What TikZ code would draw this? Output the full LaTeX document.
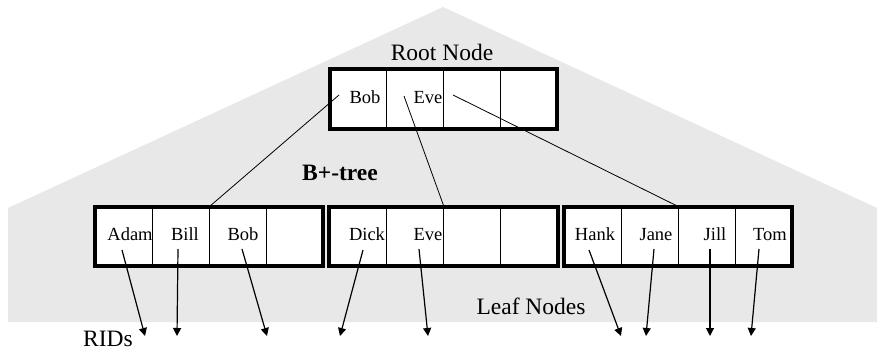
\documentclass[tikz,border=0pt]{standalone}
\usepackage{fontspec}
\setmainfont{Liberation Serif}
\usetikzlibrary{arrows.meta}
\definecolor{treegray}{HTML}{E8E8E8}
\tikzset{
  cell/.style={draw, line width=0.8pt, fill=white, minimum width=57pt, minimum height=59pt, inner sep=0pt},
  key/.style={anchor=base, inner sep=0pt, font=\fontsize{18.5}{22}\selectfont},
  label/.style={anchor=base, inner sep=0pt, font=\fontsize{23.5}{28}\selectfont},
  ptr/.style={line width=0.8pt},
  rid/.style={line width=1.2pt, -{Triangle[length=8pt,width=8pt]}}
}
\begin{document}
\begin{tikzpicture}[x=1pt, y=-1pt]
    \useasboundingbox (0,0) rectangle (877,352);
    \fill[treegray] (8,208) -- (443,7) -- (877,208) -- (877,322) -- (8,322) -- cycle;
    % root node
    \node[cell, minimum width=56.75pt, minimum height=60pt] (r1) at (358.4,99) {};
    \node[cell, minimum width=56.75pt, minimum height=60pt] (r2) at (415.1,99) {};
    \node[cell, minimum width=56.75pt, minimum height=60pt] (r3) at (471.9,99) {};
    \node[cell, minimum width=56.75pt, minimum height=60pt] (r4) at (528.6,99) {};
    \draw[line width=4pt] (r1.north west) rectangle (r4.south east);
    \node[key] (rbob) at (365,104) {Bob};
    \node[key] (reve) at (428,104) {Eve};
    \node[label] (rootlabel) at (442,61) {Root Node};
    % leaf nodes
    \node[cell] (a1) at (123.5,236.5) {};
    \node[cell] (a2) at (180.5,236.5) {};
    \node[cell] (a3) at (237.5,236.5) {};
    \node[cell] (a4) at (294.5,236.5) {};
    \draw[line width=4pt] (a1.north west) rectangle (a4.south east);
    \node[cell, minimum width=57.25pt] (b1) at (357.6,236.5) {};
    \node[cell, minimum width=57.25pt] (b2) at (414.9,236.5) {};
    \node[cell, minimum width=57.25pt] (b3) at (472.1,236.5) {};
    \node[cell, minimum width=57.25pt] (b4) at (529.4,236.5) {};
    \draw[line width=4pt] (b1.north west) rectangle (b4.south east);
    \node[cell] (c1) at (592.5,236.5) {};
    \node[cell] (c2) at (649.5,236.5) {};
    \node[cell] (c3) at (706.5,236.5) {};
    \node[cell] (c4) at (763.5,236.5) {};
    \draw[line width=4pt] (c1.north west) rectangle (c4.south east);
    \node[key] (adam) at (130,241) {Adam};
    \node[key] (bill) at (185,241) {Bill};
    \node[key] (bob) at (243,241) {Bob};
    \node[key] (dick) at (367,241) {Dick};
    \node[key] (eve) at (428,241) {Eve};
    \node[key] (hank) at (595,241) {Hank};
    \node[key] (jane) at (656,241) {Jane};
    \node[key] (jill) at (715,241) {Jill};
    \node[key] (tom) at (770,241) {Tom};
    \node[label, font=\fontsize{23.5}{28}\selectfont\bfseries] (treelabel) at (340,181) {B+-tree};
    \node[label] (leaflabel) at (531,314) {Leaf Nodes};
    \node[label] (ridlabel) at (108,346) {RIDs};
    % pointers from the root
    \coordinate (rp1) at (339,95);
    \coordinate (rp2) at (404,96);
    \coordinate (rp3) at (453,95);
    \draw[ptr] (rp1) -- (a2.north east);
    \draw[ptr] (rp2) -- (b2.north east);
    \draw[ptr] (rp3) -- (c2.north east);
    % pointers to the RIDs
    \coordinate (adamp) at (122,250);
    \coordinate (billp) at (178,249);
    \coordinate (bobp) at (242,249);
    \coordinate (dickp) at (363,250);
    \coordinate (evep) at (419,249);
    \coordinate (hankp) at (589,250);
    \coordinate (janep) at (654,249);
    \coordinate (jillp) at (710,249);
    \coordinate (tomp) at (759,249);
    \coordinate (rid1) at (145,336);
    \coordinate (rid2) at (177,336);
    \coordinate (rid3) at (267,336);
    \coordinate (rid4) at (340,336);
    \coordinate (rid5) at (428,336);
    \coordinate (rid6) at (621,336);
    \coordinate (rid7) at (646,336);
    \coordinate (rid8) at (710,336);
    \coordinate (rid9) at (751,336);
    \draw[rid] (adamp) -- (rid1);
    \draw[rid] (billp) -- (rid2);
    \draw[rid] (bobp) -- (rid3);
    \draw[rid] (dickp) -- (rid4);
    \draw[rid] (evep) -- (rid5);
    \draw[rid] (hankp) -- (rid6);
    \draw[rid] (janep) -- (rid7);
    \draw[rid] (jillp) -- (rid8);
    \draw[rid] (tomp) -- (rid9);
  \end{tikzpicture}
\end{document}
